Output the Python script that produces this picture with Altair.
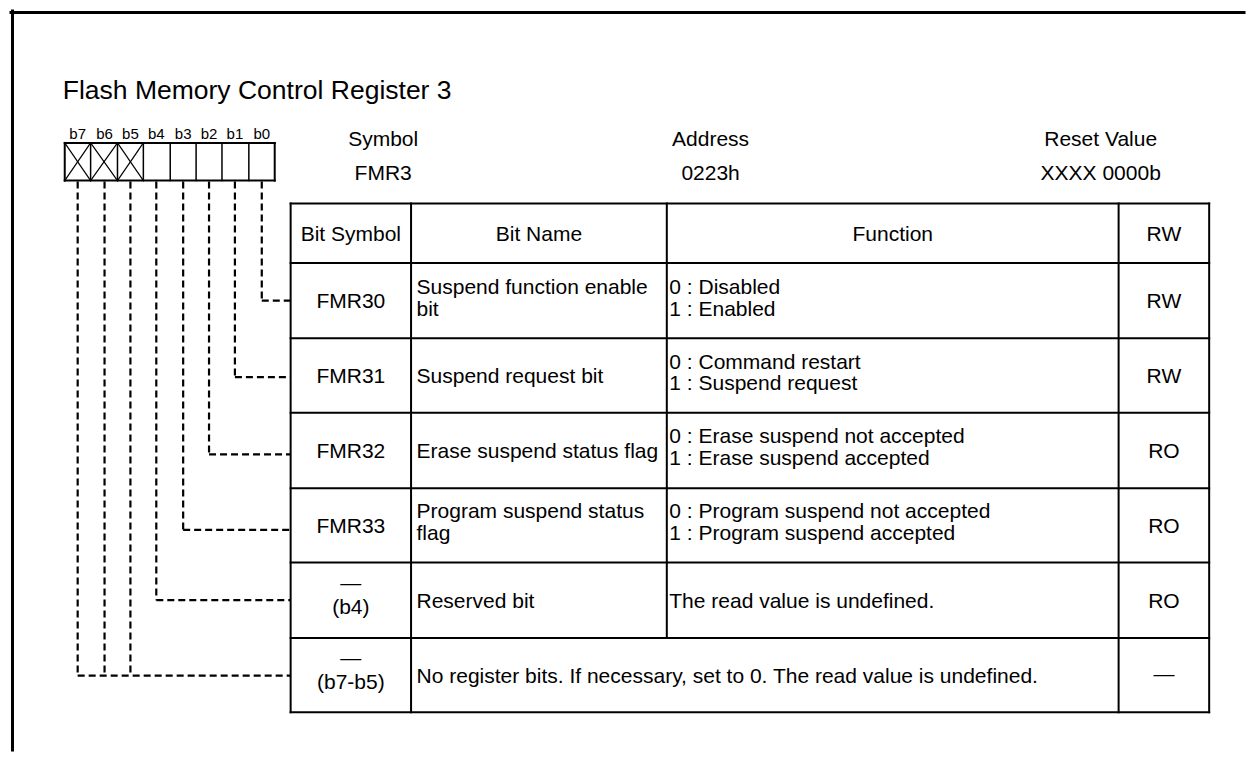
import altair as alt
import pandas as pd

# ---------------- content ----------------
title = "Flash Memory Control Register 3"
bits = ["b7", "b6", "b5", "b4", "b3", "b2", "b1", "b0"]
unused_bits = ["b7", "b6", "b5"]
info_labels = ["Symbol", "Address", "Reset Value"]
info_values = ["FMR3", "0223h", "XXXX 0000b"]
header = ["Bit Symbol", "Bit Name", "Function", "RW"]
bit_symbols = ["FMR30", "FMR31", "FMR32", "FMR33", "\u2014", "\u2014"]
bit_symbol_notes = ["", "", "", "", "(b4)", "(b7-b5)"]
bit_names = [
    ["Suspend function enable", "bit"],
    ["Suspend request bit"],
    ["Erase suspend status flag"],
    ["Program suspend status", "flag"],
    ["Reserved bit"],
    ["No register bits. If necessary, set to 0. The read value is undefined."],
]
functions = [
    ["0 : Disabled", "1 : Enabled"],
    ["0 : Command restart", "1 : Suspend request"],
    ["0 : Erase suspend not accepted", "1 : Erase suspend accepted"],
    ["0 : Program suspend not accepted", "1 : Program suspend accepted"],
    ["The read value is undefined."],
    [],
]
rw = ["RW", "RW", "RO", "RO", "RO", "\u2014"]
row_bits = [["b0"], ["b1"], ["b2"], ["b3"], ["b4"], ["b5", "b6", "b7"]]

# ---------------- layout (page pixels) ----------------
W, H = 1239, 745
OX, OY = 8, 8
FONT = "Liberation Sans"
FS = 21
BOX_L, BOX_R, BOX_T, BOX_B = 62, 273, 141, 179
COLS = [289, 410, 667, 1121, 1212]
ROWS = [202, 262, 338, 413, 489, 564, 640, 715]
LEAD_Y = [300, 377, 455, 531, 602, 678]
INFO_X = [382, 711, 1103]

cw = (BOX_R - BOX_L) / len(bits)
cell_cx = {b: round(BOX_L + (i + 0.5) * cw) for i, b in enumerate(bits)}

solid = []
def rule(x, y, x2, y2, w):
    solid.append(dict(x=x, y=y, x2=x2, y2=y2, w=w))

# outer frame
rule(OX, 9.5, OX + W, 9.5, 3)
rule(9.5, OY, 9.5, OY + H, 3)
# register box
rule(BOX_L, BOX_T, BOX_R, BOX_T, 2)
rule(BOX_L, BOX_B, BOX_R, BOX_B, 2)
rule(BOX_L, BOX_T, BOX_L, BOX_B, 2)
rule(BOX_R, BOX_T, BOX_R, BOX_B, 2)
for i in range(1, len(bits)):
    rule(round(BOX_L + i * cw), BOX_T, round(BOX_L + i * cw), BOX_B, 1.5)
for i, b in enumerate(bits):
    if b in unused_bits:
        xa, xb = round(BOX_L + i * cw), round(BOX_L + (i + 1) * cw)
        rule(xa, BOX_T, xb, BOX_B, 1.2)
        rule(xa, BOX_B, xb, BOX_T, 1.2)
# table
for ry in ROWS:
    rule(COLS[0], ry, COLS[-1], ry, 2)
rule(COLS[0], ROWS[0], COLS[0], ROWS[-1], 2)
rule(COLS[1], ROWS[0], COLS[1], ROWS[-1], 2)
rule(COLS[2], ROWS[0], COLS[2], ROWS[-2], 2)
rule(COLS[3], ROWS[0], COLS[3], ROWS[-1], 2)
rule(COLS[4], ROWS[0], COLS[4], ROWS[-1], 2)

# dashed leader lines
dashed = []
for r, bl in enumerate(row_bits):
    ly = LEAD_Y[r]
    xs_ = [cell_cx[b] for b in bl]
    for x in xs_:
        dashed.append(dict(x=x, y=BOX_B + 1, x2=x, y2=ly))
    dashed.append(dict(x=min(xs_), y=ly, x2=COLS[0], y2=ly))

# texts
ctext, ltext = [], []
def ct(x, y, t, s=FS):
    ctext.append(dict(x=x, y=y, t=t, s=s))
def lt(x, y, t, s=FS):
    ltext.append(dict(x=x, y=y, t=t, s=s))

lt(60, 97, title, 26.5)
for b in bits:
    ct(cell_cx[b], 137, b, 15)
for x, a, v in zip(INFO_X, info_labels, info_values):
    ct(x, 144, a)
    ct(x, 178, v)
hc = (ROWS[0] + ROWS[1]) / 2
for i, h in enumerate(header):
    ct((COLS[i] + COLS[i + 1]) / 2, hc + 7.5, h)

def baselines(c, n):
    return [c + 7.5] if n == 1 else [c - 7, c + 15]

for r in range(len(bit_symbols)):
    c = (ROWS[r + 1] + ROWS[r + 2]) / 2
    sx = (COLS[0] + COLS[1]) / 2
    if bit_symbol_notes[r]:
        ct(sx, c - 10.5, bit_symbols[r])
        ct(sx, c + 14, bit_symbol_notes[r])
    else:
        ct(sx, c + 7.5, bit_symbols[r])
    for t, y in zip(bit_names[r], baselines(c, len(bit_names[r]))):
        lt(COLS[1] + 5.5, y, t)
    if functions[r]:
        for t, y in zip(functions[r], baselines(c, len(functions[r]))):
            lt(COLS[2] + 2.5, y, t)
    rwx = (COLS[3] + COLS[4]) / 2
    ct(rwx, c + (6 if rw[r] == "\u2014" else 7.5), rw[r])

xs = alt.Scale(domain=[OX, OX + W], nice=False, zero=False)
ys = alt.Scale(domain=[OY, OY + H], nice=False, zero=False, reverse=True)

solid_layer = alt.Chart(pd.DataFrame(solid)).mark_rule(color="black", strokeCap="square").encode(
    x=alt.X("x:Q", scale=xs, axis=None),
    y=alt.Y("y:Q", scale=ys, axis=None),
    x2="x2:Q",
    y2="y2:Q",
    strokeWidth=alt.StrokeWidth("w:Q", scale=None, legend=None),
)
dash_layer = alt.Chart(pd.DataFrame(dashed)).mark_rule(color="black", strokeWidth=2.2, strokeDash=[7, 4]).encode(
    x=alt.X("x:Q", scale=xs, axis=None),
    y=alt.Y("y:Q", scale=ys, axis=None),
    x2="x2:Q",
    y2="y2:Q",
)
ctext_layer = alt.Chart(pd.DataFrame(ctext)).mark_text(
    font=FONT, align="center", baseline="alphabetic", color="black"
).encode(
    x=alt.X("x:Q", scale=xs, axis=None),
    y=alt.Y("y:Q", scale=ys, axis=None),
    text="t:N",
    size=alt.Size("s:Q", scale=None, legend=None),
)
ltext_layer = alt.Chart(pd.DataFrame(ltext)).mark_text(
    font=FONT, align="left", baseline="alphabetic", color="black"
).encode(
    x=alt.X("x:Q", scale=xs, axis=None),
    y=alt.Y("y:Q", scale=ys, axis=None),
    text="t:N",
    size=alt.Size("s:Q", scale=None, legend=None),
)

chart = alt.layer(solid_layer, dash_layer, ctext_layer, ltext_layer).properties(
    width=W, height=H, padding=0,
    autosize=alt.AutoSizeParams(type="fit", contains="padding"),
    background="white",
).configure_view(stroke=None)

chart.save("out.html", embed_options={"renderer": "svg", "actions": False})
